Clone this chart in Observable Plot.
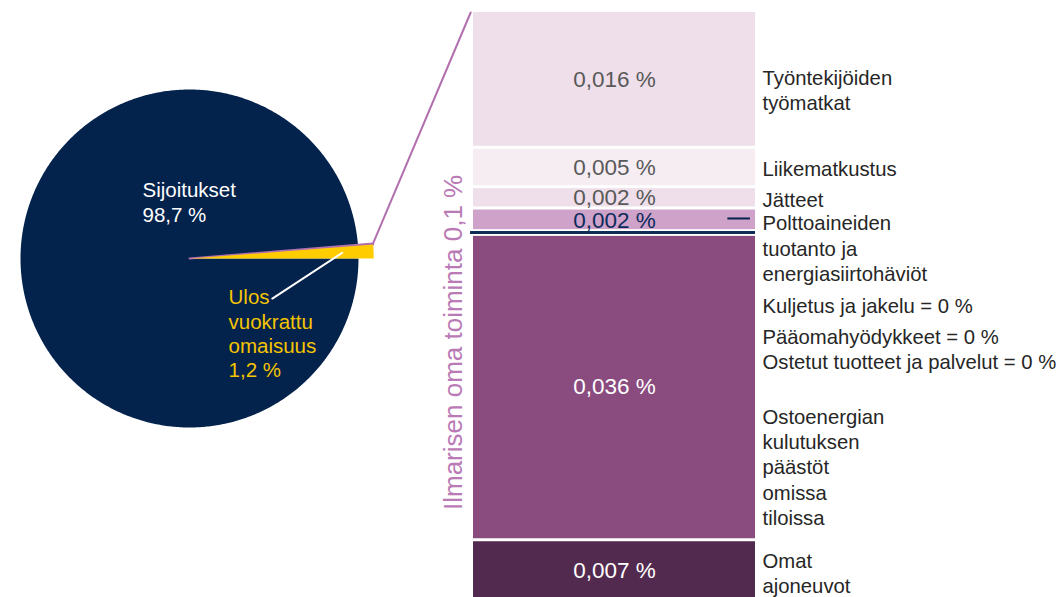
<!DOCTYPE html>
<html>
<head>
<meta charset="utf-8">
<script src="https://cdn.jsdelivr.net/npm/d3@7"></script>
<script src="https://cdn.jsdelivr.net/npm/@observablehq/plot@0.6"></script>
<style>
html, body { margin: 0; padding: 0; background: #ffffff; }
#chart { position: relative; width: 1060px; height: 597px; overflow: hidden; font-family: Arial, "Liberation Sans", sans-serif; }
#chart svg { position: absolute; left: 0; top: 0; }
</style>
</head>
<body>
<div id="chart"></div>
<script>
// ---------------- DATA ----------------
// Pie (share of total emissions, %)
const pieNames = ["Sijoitukset", "Ilmarisen oma toiminta", "Ulos vuokrattu omaisuus"];
const pieValues = [98.7, 0.1, 1.2];
const pieLabels = ["Sijoitukset\n98,7 %", "", "Ulos\nvuokrattu\nomaisuus\n1,2 %"];

// Stacked bar: breakdown of "Ilmarisen oma toiminta" (%), top to bottom
const barNames = [
  "Työntekijöiden työmatkat",
  "Liikematkustus",
  "Jätteet",
  "Polttoaineiden tuotanto ja energiasiirtohäviöt",
  "Kuljetus ja jakelu",
  "Pääomahyödykkeet",
  "Ostetut tuotteet ja palvelut",
  "Ostoenergian kulutuksen päästöt omissa tiloissa",
  "Omat ajoneuvot"
];
const barValues = [0.016, 0.0046, 0.0025, 0.0028, 0, 0, 0, 0.036, 0.0072];
const barValueLabels = ["0,016 %", "0,005 %", "0,002 %", "0,002 %", "", "", "", "0,036 %", "0,007 %"];
const barCategoryLabels = [
  "Työntekijöiden\ntyömatkat",
  "Liikematkustus",
  "Jätteet",
  "Polttoaineiden\ntuotanto ja\nenergiasiirtohäviöt",
  "Kuljetus ja jakelu = 0 %",
  "Pääomahyödykkeet = 0 %",
  "Ostetut tuotteet ja palvelut = 0 %",
  "Ostoenergian\nkulutuksen\npäästöt\nomissa\ntiloissa",
  "Omat\najoneuvot"
];
const barTitle = "Ilmarisen oma toiminta 0,1 %";

// ---------------- STYLE / LAYOUT ----------------
const FONT = 'Arial, "Liberation Sans", sans-serif';
const navy = "#03224c";
const pieColors = {"Sijoitukset": navy, "Ilmarisen oma toiminta": "#b16fae", "Ulos vuokrattu omaisuus": "#ffcc00"};
const pieRadius = {"Sijoitukset": 1, "Ilmarisen oma toiminta": 1.09, "Ulos vuokrattu omaisuus": 1.09};
const barColors = {
  "Työntekijöiden työmatkat": "#eedfea",
  "Liikematkustus": "#f6edf3",
  "Jätteet": "#eedfea",
  "Polttoaineiden tuotanto ja energiasiirtohäviöt": "#cfa2ca",
  "Kuljetus ja jakelu": "#0d2b55",
  "Pääomahyödykkeet": "#0d2b55",
  "Ostetut tuotteet ja palvelut": "#0d2b55",
  "Ostoenergian kulutuksen päästöt omissa tiloissa": "#8a4b7f",
  "Omat ajoneuvot": "#532a4f"
};
const valueTextColors = {
  "Polttoaineiden tuotanto ja energiasiirtohäviöt": "#0d2b5a",
  "Ostoenergian kulutuksen päästöt omissa tiloissa": "#ffffff",
  "Omat ajoneuvot": "#ffffff"
};
// vertical offsets (px) of the right-hand category labels from their segment centre
const labelShift = {
  "Työntekijöiden työmatkat": 10,
  "Liikematkustus": 0,
  "Jätteet": 1,
  "Polttoaineiden tuotanto ja energiasiirtohäviöt": 27,
  "Kuljetus ja jakelu": 72,
  "Pääomahyödykkeet": 103,
  "Ostetut tuotteet ja palvelut": 128,
  "Ostoenergian kulutuksen päästöt omissa tiloissa": 80,
  "Omat ajoneuvot": 1
};

// ---------------- SCALES ----------------
const total = d3.sum(barValues);
const pieXOpts = {type: "linear", domain: [-1, 1], range: [20, 358], axis: null};
const pieYOpts = {type: "linear", domain: [-1, 1], range: [427, 89], axis: null};
const barXOpts = {type: "linear", domain: [0, 1], range: [473, 755], axis: null};
const barYOpts = {type: "linear", domain: [0, total], range: [10.5, 10.5 + total * 8550], axis: null};
const pieX = Plot.scale({x: pieXOpts});
const pieY = Plot.scale({y: pieYOpts});
const barX = Plot.scale({x: barXOpts});
const barY = Plot.scale({y: barYOpts});

// ---------------- PIE GEOMETRY ----------------
const arcs = d3.pie().sort(null).startAngle(Math.PI / 2).endAngle(Math.PI / 2 + 2 * Math.PI)(pieValues);
const pieSlices = arcs.map((a, i) => ({name: pieNames[i], label: pieLabels[i], start: a.startAngle, end: a.endAngle}));
const piePts = [];
for (const s of pieSlices) {
  const r = pieRadius[s.name];
  const n = Math.max(2, Math.ceil((s.end - s.start) / 0.01));
  piePts.push({name: s.name, px: 0, py: 0, color: pieColors[s.name]});
  for (let j = 0; j <= n; j++) {
    const t = s.start + (s.end - s.start) * j / n;
    piePts.push({name: s.name, px: r * Math.sin(t), py: r * Math.cos(t), color: pieColors[s.name]});
  }
  piePts.push({name: s.name, px: 0, py: 0, color: pieColors[s.name]});
}
const own = pieSlices[1];
const tipR = pieRadius[own.name];
const tip = {px: tipR * Math.sin(own.start), py: tipR * Math.cos(own.start)};
// connector end = top-left corner of the stacked bar, converted through the scales
const corner = {
  px: pieX.invert(barX.apply(-0.01)),
  py: pieY.invert(barY.apply(0) + 1.5)
};
const rented = pieSlices[2];
const rentedMid = (rented.start + rented.end) / 2;
const leader = [
  {px: 0.905 * Math.sin(rentedMid), py: 0.905 * Math.cos(rentedMid)},
  {px: 0.49, py: -0.237}
];

const piePlot = Plot.plot({
  width: 1060, height: 597, margin: 0,
  style: {background: "transparent", fontFamily: FONT, fontSize: "20px", overflow: "visible"},
  x: pieXOpts, y: pieYOpts,
  color: {type: "identity"},
  marks: [
    Plot.line(piePts.filter(d => d.name === "Sijoitukset"), {x: "px", y: "py", z: "name", fill: "color", stroke: "none", curve: "linear"}),
    Plot.line(piePts.filter(d => d.name === "Ilmarisen oma toiminta"), {x: "px", y: "py", z: "name", fill: "color", stroke: "color", strokeWidth: 2, curve: "linear"}),
    Plot.line(piePts.filter(d => d.name === "Ulos vuokrattu omaisuus"), {x: "px", y: "py", z: "name", fill: "color", stroke: "none", curve: "linear"}),
    Plot.line([tip, corner], {x: "px", y: "py", stroke: pieColors["Ilmarisen oma toiminta"], strokeWidth: 2}),
    Plot.line(leader, {x: "px", y: "py", stroke: "#ffffff", strokeWidth: 2}),
    Plot.text([pieSlices[0]], {x: () => -0.278, y: () => 0.34, text: "label", textAnchor: "start", fill: "#ffffff", fontSize: 20.5, lineHeight: 1.22}),
    Plot.text([pieSlices[2]], {x: () => 0.231, y: () => -0.441, text: "label", textAnchor: "start", fill: "#f5c400", fontSize: 20.5, lineHeight: 1.19})
  ]
});

// ---------------- BAR ROWS ----------------
const ends = d3.cumsum(barValues);
const rows = barNames.map((name, i) => ({
  name,
  value: barValues[i],
  y1: ends[i] - barValues[i],
  y2: ends[i],
  mid: ends[i] - barValues[i] / 2,
  valueLabel: barValueLabels[i],
  category: barCategoryLabels[i],
  color: barColors[name],
  textColor: valueTextColors[name] || "#595959"
}));
const posRows = rows.filter(d => d.value > 0);
const zeroRows = rows.filter(d => d.value === 0);
const fuelRow = rows.find(d => d.name === "Polttoaineiden tuotanto ja energiasiirtohäviöt");

const barPlot = Plot.plot({
  width: 1060, height: 597, margin: 0,
  style: {background: "transparent", fontFamily: FONT, fontSize: "20px", overflow: "visible"},
  x: barXOpts, y: barYOpts,
  color: {type: "identity"},
  marks: [
    Plot.rect(posRows, {x1: () => 0, x2: () => 1, y1: "y1", y2: "y2", fill: "color", insetTop: 1.5, insetBottom: 1.5}),
    Plot.ruleY(zeroRows, {y: "y1", x1: () => -0.01, x2: () => 1, stroke: "#ffffff", strokeWidth: 6}),
    Plot.ruleY(zeroRows, {y: "y1", x1: () => -0.01, x2: () => 1, stroke: "color", strokeWidth: 2.5}),
    Plot.ruleY([fuelRow], {y: "mid", x1: () => 0.902, x2: () => 0.982, dy: -2, stroke: navy, strokeWidth: 2}),
    Plot.text(posRows, {x: () => 0.5, y: "mid", text: "valueLabel", fill: "textColor", fontSize: 22.5}),
    ...rows.map(r => Plot.text([r], {x: () => 1, y: "mid", dx: 7, dy: labelShift[r.name], text: "category", textAnchor: "start", fill: "#262626", fontSize: 20.3, lineHeight: 1.24})),
    Plot.text([barTitle], {x: () => 0, y: () => total / 2, dx: -20, dy: 36, text: d => d, rotate: -90, fill: "#b97ab6", fontSize: 26})
  ]
});

const chart = document.getElementById("chart");
chart.appendChild(piePlot);
chart.appendChild(barPlot);
</script>
</body>
</html>
